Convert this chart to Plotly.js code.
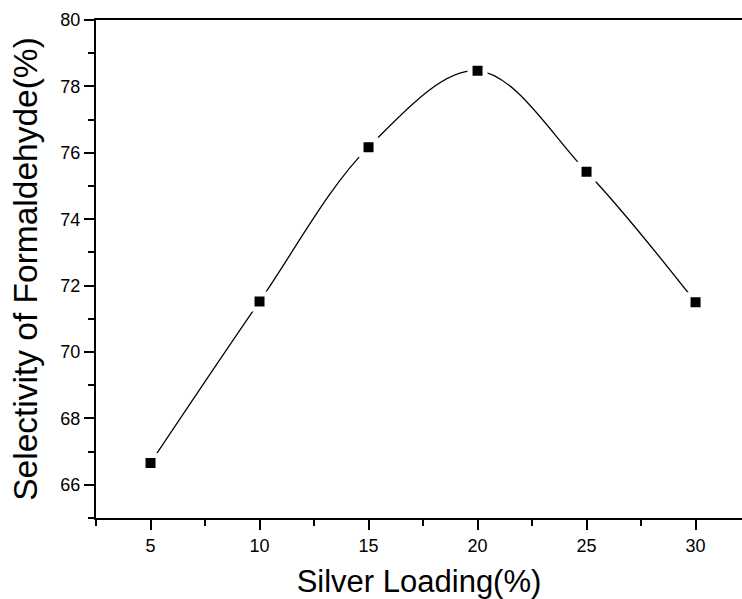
<!DOCTYPE html>
<html>
<head>
<meta charset="utf-8">
<script src="https://cdn.plot.ly/plotly-3.0.1.min.js"></script>
<style>html,body{margin:0;padding:0;background:#fff;}#chart{width:742px;height:599px;}</style>
</head>
<body>
<div id="chart"></div>
<script>
const silverLoading = [5, 10, 15, 20, 25, 30];
const selectivity = [66.66, 71.52, 76.17, 78.47, 75.43, 71.50];
const xTitle = "Silver Loading(%)";
const yTitle = "Selectivity of Formaldehyde(%)";

const font = "Liberation Sans, Arial, Helvetica, sans-serif";

const trace = {
  x: silverLoading,
  y: selectivity,
  mode: "lines+markers",
  line: {shape: "spline", smoothing: 1, color: "#000", width: 1.3},
  marker: {symbol: "square", size: 15, color: "#000", line: {color: "#fff", width: 5}},
  hoverinfo: "skip"
};

const layout = {
  width: 742, height: 599,
  margin: {l: 96, r: 0, t: 20, b: 81},
  paper_bgcolor: "#fff", plot_bgcolor: "#fff",
  showlegend: false,
  font: {family: font, color: "#000"},
  xaxis: {
    range: [2.5, 32.13],
    tick0: 0, dtick: 5,
    showgrid: false, zeroline: false,
    showline: true, linecolor: "#000", linewidth: 2, mirror: true,
    ticks: "outside", ticklen: 10, tickwidth: 2, tickcolor: "#000",
    tickfont: {size: 18, family: font, color: "#000"},
    minor: {dtick: 2.5, tick0: 0, ticks: "outside", ticklen: 6, tickwidth: 2, tickcolor: "#000", showgrid: false},
    title: {text: xTitle, font: {size: 31, family: font, color: "#000"}, standoff: 16}
  },
  yaxis: {
    range: [65, 80],
    tick0: 0, dtick: 2,
    showgrid: false, zeroline: false,
    showline: true, linecolor: "#000", linewidth: 2, mirror: false,
    ticks: "outside", ticklen: 10, tickwidth: 2, tickcolor: "#000",
    tickfont: {size: 18, family: font, color: "#000"},
    minor: {dtick: 1, tick0: 0, ticks: "outside", ticklen: 6, tickwidth: 2, tickcolor: "#000", showgrid: false},
    title: {text: yTitle, font: {size: 33.5, family: font, color: "#000"}, standoff: 13}
  }
};

Plotly.newPlot("chart", [trace], layout, {staticPlot: true, displayModeBar: false});
</script>
</body>
</html>
